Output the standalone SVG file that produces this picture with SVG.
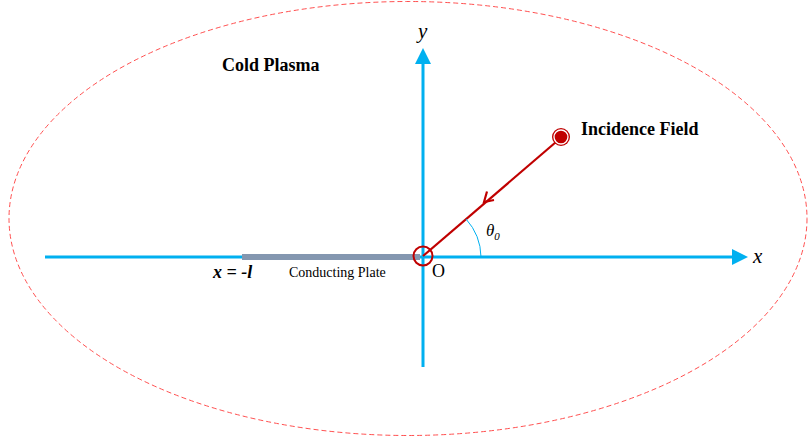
<svg xmlns="http://www.w3.org/2000/svg" width="808" height="443" viewBox="0 0 808 443">
<style>
.ax{stroke:#00B0F0;stroke-width:3;fill:none}
.t{font-family:"Liberation Serif",serif;fill:#000}
.b{font-weight:bold;font-size:18px}
.i{font-style:italic}
</style>
<rect width="808" height="443" fill="#fff"/>
<g id="plasma">
<ellipse cx="408" cy="218.5" rx="399" ry="217" fill="none" stroke="#FF5050" stroke-width="1" stroke-dasharray="5,3"/>
<text class="t b" x="222" y="71">Cold Plasma</text>
</g>
<g id="connectors">
<line class="ax" x1="45" y1="257" x2="735" y2="257"/>
<polygon points="748,257 732,249 732,265" fill="#00B0F0"/>
<line class="ax" x1="423" y1="367" x2="423" y2="62"/>
<polygon points="423,48 415,64 431,64" fill="#00B0F0"/>
<line x1="556" y1="142" x2="423" y2="256" stroke="#C00000" stroke-width="2.2"/>
<polyline points="487,191.5 484,202 494,200" fill="none" stroke="#C00000" stroke-width="2.2"/>
<path d="M481,257 A58,58 0 0 0 466,219" fill="none" stroke="#00B0F0" stroke-width="1"/>
</g>
<g id="plate">
<line x1="242" y1="257" x2="420" y2="257" stroke="#8497B0" stroke-width="6"/>
<text class="t b i" x="213" y="278" font-size="21">x = -l</text>
<text class="t" x="289" y="277" font-size="14">Conducting Plate</text>
</g>
<g id="origin">
<circle cx="423" cy="256" r="9.5" fill="none" stroke="#C00000" stroke-width="2"/>
<text class="t" x="432" y="277" font-size="18">O</text>
</g>
<g id="incidence">
<circle cx="561" cy="137" r="9" fill="#C00000"/>
<circle cx="561" cy="137" r="7" fill="none" stroke="#fff" stroke-width="1.3"/>
<text class="t b" x="581" y="135">Incidence Field</text>
</g>
<g id="labels">
<text class="t i" x="486" y="236" font-size="17">θ<tspan font-size="11" dy="4">0</tspan></text>
<text class="t i" x="418" y="38" font-size="21">y</text>
<text class="t i" x="753" y="263" font-size="21">x</text>
</g>
</svg>
